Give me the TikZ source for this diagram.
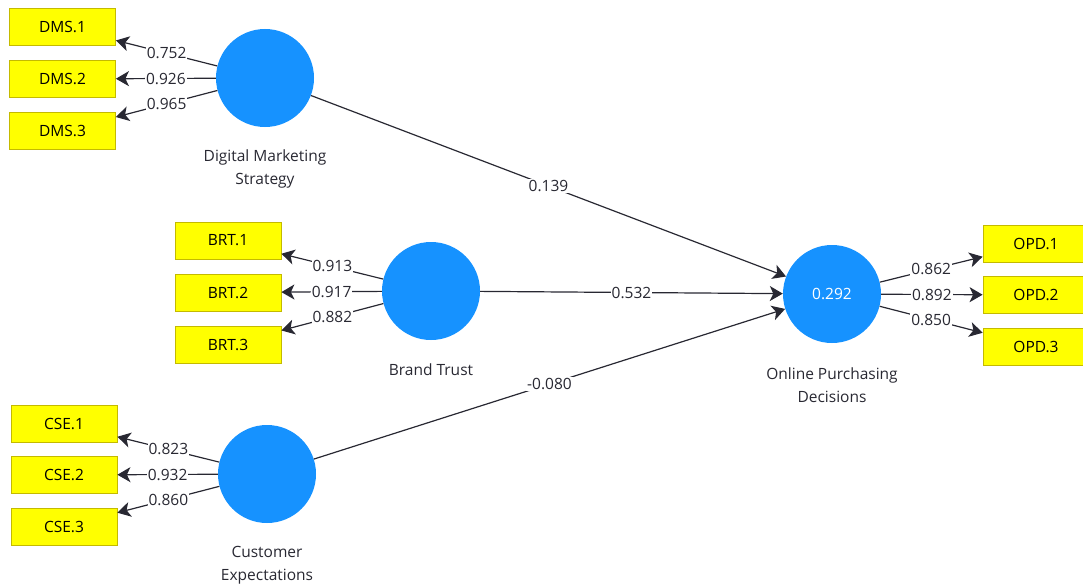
\documentclass[tikz,border=0pt]{standalone}
\usepackage{fontspec}
\setmainfont{Open Sans}
\usetikzlibrary{arrows.meta}
\definecolor{lvblue}{RGB}{22,146,255}
\definecolor{indyellow}{RGB}{255,255,0}
\definecolor{indborder}{RGB}{196,186,0}
\definecolor{txt}{RGB}{40,40,50}
\begin{document}
\begin{tikzpicture}[x=1pt,y=-1pt,
  ind/.style={draw=indborder, line width=0.8pt, fill=indyellow, minimum width=106pt, minimum height=37pt, inner sep=0pt, text=black, font=\fontsize{15.5}{17}\selectfont},
  lv/.style={circle, fill=lvblue, minimum size=98pt, inner sep=0pt, text=white, font=\fontsize{15.5}{17}\selectfont},
  lvlabel/.style={align=center, text=txt, font=\fontsize{15.5}{23}\selectfont},
  arr/.style={line width=1.2pt, draw=txt, arrows={-Stealth[length=13pt,width=15pt,inset=3.5pt]}},
  coef/.style={fill=white, inner sep=1pt, text=txt, font=\fontsize{15.5}{17}\selectfont}
]
\useasboundingbox (0,0) rectangle (1083,586);

% latent variables
\node[lv] (dms) at (265,78) {};
\node[lv] (brt) at (431,291) {};
\node[lv] (cse) at (267,474) {};
\node[lv] (opd) at (832,294) {0.292};

% latent labels
\node[lvlabel] (dmsl) at (265,169) {Digital Marketing\\Strategy};
\node[lvlabel] (brtl) at (431,370) {Brand Trust};
\node[lvlabel] (csel) at (267,565) {Customer\\Expectations};
\node[lvlabel] (opdl) at (832,385) {Online Purchasing\\Decisions};

% indicators
\node[ind] (dms1) at (62.5,27) {DMS.1};
\node[ind] (dms2) at (62.5,79) {DMS.2};
\node[ind] (dms3) at (62.5,131) {DMS.3};
\node[ind] (brt1) at (228,240.5) {BRT.1};
\node[ind] (brt2) at (228,292.5) {BRT.2};
\node[ind] (brt3) at (228,344.5) {BRT.3};
\node[ind] (cse1) at (64,423.5) {CSE.1};
\node[ind] (cse2) at (64,475) {CSE.2};
\node[ind] (cse3) at (64,526.5) {CSE.3};
\node[ind] (opd1) at (1036,243.5) {OPD.1};
\node[ind] (opd2) at (1036,295) {OPD.2};
\node[ind] (opd3) at (1036,346.5) {OPD.3};

% loadings
\draw[arr] (dms) -- node[coef] {0.752} (dms1);
\draw[arr] (dms) -- node[coef] {0.926} (dms2);
\draw[arr] (dms) -- node[coef] {0.965} (dms3);
\draw[arr] (brt) -- node[coef] {0.913} (brt1);
\draw[arr] (brt) -- node[coef] {0.917} (brt2);
\draw[arr] (brt) -- node[coef] {0.882} (brt3);
\draw[arr] (cse) -- node[coef] {0.823} (cse1);
\draw[arr] (cse) -- node[coef] {0.932} (cse2);
\draw[arr] (cse) -- node[coef] {0.860} (cse3);
\draw[arr] (opd) -- node[coef] {0.862} (opd1);
\draw[arr] (opd) -- node[coef] {0.892} (opd2);
\draw[arr] (opd) -- node[coef] {0.850} (opd3);

% paths
\draw[arr] (dms) -- node[coef] {0.139} (opd);
\draw[arr] (brt) -- node[coef] {0.532} (opd);
\draw[arr] (cse) -- node[coef] {-0.080} (opd);
\end{tikzpicture}
\end{document}
